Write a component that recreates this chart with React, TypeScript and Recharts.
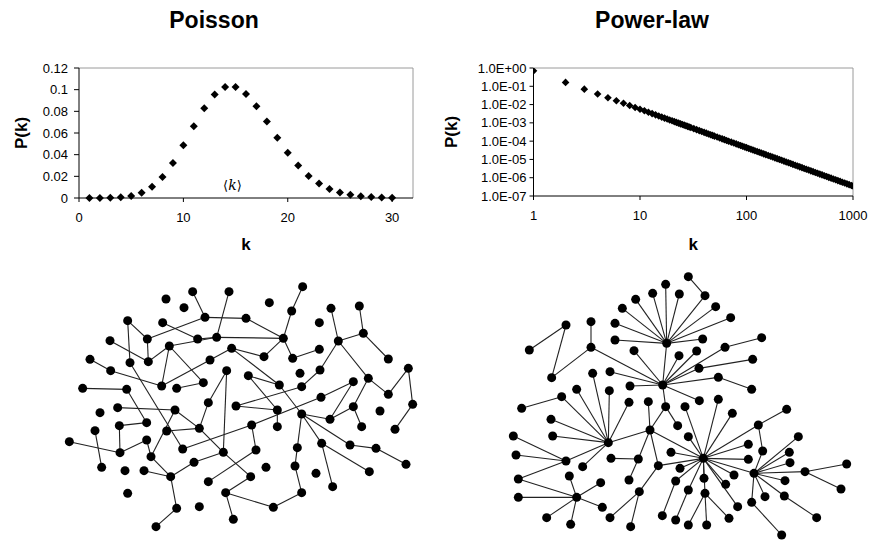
import React from 'react'
import {
  ScatterChart, Scatter, XAxis, YAxis, ReferenceLine, ReferenceDot, Label,
} from 'recharts'

const FONT = '"Liberation Sans", Arial, Helvetica, sans-serif'

// Poisson degree distribution
const POISSON_K = [
  1, 2, 3, 4, 5, 6, 7, 8, 9, 10, 11, 12, 13, 14, 15,
  16, 17, 18, 19, 20, 21, 22, 23, 24, 25, 26, 27, 28, 29, 30,
]
const POISSON_P = [
  0.0000, 0.0000, 0.0002, 0.0006, 0.0019, 0.0048, 0.0104, 0.0194, 0.0324, 0.0486,
  0.0663, 0.0829, 0.0956, 0.1024, 0.1024, 0.0960, 0.0847, 0.0706, 0.0557, 0.0418,
  0.0299, 0.0204, 0.0133, 0.0083, 0.0050, 0.0029, 0.0016, 0.0009, 0.0004, 0.0002,
]
const POISSON_XTICKS = [0, 10, 20, 30]
const POISSON_YTICKS = [0, 0.02, 0.04, 0.06, 0.08, 0.1, 0.12]

// power-law distribution (log-log), dense band of markers
const POWER_K = [
  1, 2, 3, 4, 5, 6, 7, 8, 9, 10, 11, 12, 13, 14, 15, 16, 17, 18, 19, 20,
  21, 22, 23, 24, 25, 26, 27, 28, 29, 30, 32, 34, 36, 38, 40, 42, 44, 46, 48, 50,
  53, 56, 59, 62, 65, 68, 72, 76, 80, 84, 88, 92, 96, 100, 105, 110, 115, 120,
  126, 132, 138, 145, 152, 160, 168, 176, 185, 194, 204, 214, 225, 236, 248, 260,
  273, 287, 301, 316, 332, 348, 365, 383, 402, 422, 443, 465, 488, 512, 538, 565,
  593, 623, 654, 687, 721, 757, 795, 835, 877, 920, 966, 1000,
]
const POWER_P = [
  0.70, 0.163, 0.0697, 0.0381, 0.0238, 0.01626, 0.01176, 0.00888, 0.00694, 0.00556,
  0.00455, 0.00379, 0.0032, 0.00274, 0.00237, 0.00207, 0.00182, 0.00162, 0.00144, 0.0013,
  0.001171, 0.00106, 0.000967, 0.000885, 0.000812, 0.000748, 0.000691, 0.00064, 0.000594, 0.000553,
  0.0004835, 0.0004255, 0.000377, 0.000337, 0.000303, 0.0002731, 0.0002476, 0.0002256, 0.0002063, 0.000189,
  0.0001675, 0.0001493, 0.0001338, 0.0001205, 0.000109, 0.0000993, 0.0000881, 0.0000786, 0.0000706,
  0.0000637, 0.0000578, 0.0000526, 0.0000481, 0.0000442, 0.0000399, 0.0000362, 0.0000329, 0.0000301,
  0.0000272, 0.0000247, 0.0000225, 0.0000202, 0.0000183, 0.0000165, 0.0000149, 0.0000135,
  0.0000121, 0.000011, 0.00000988, 0.00000894, 0.00000805, 0.00000728, 0.00000656, 0.00000594,
  0.00000536, 0.00000483, 0.00000437, 0.00000394, 0.00000356, 0.00000322, 0.00000291, 0.00000263,
  0.00000238, 0.00000215, 0.00000194, 0.00000175, 0.00000158, 0.00000143, 0.00000129, 0.00000116,
  0.00000105, 0.000000948, 0.000000856, 0.000000772, 0.000000697, 0.00000063, 0.000000568,
  0.000000512, 0.000000462, 0.000000418, 0.000000377, 0.000000351,
]
const POWER_XTICKS = [1, 10, 100, 1000]
const POWER_YTICKS = [1e-7, 1e-6, 1e-5, 1e-4, 1e-3, 1e-2, 1e-1, 1]

// random network: node positions (layout units) and links (1-based node numbers)
const RANDOM_NODES = [
  [788, 80], [458, 95], [567, 95], [378, 117], [432, 143], [688, 128], [873, 145], [958, 138],
  [755, 153], [495, 172], [618, 175], [263, 182], [368, 188], [838, 188], [970, 220], [322, 237],
  [473, 237], [530, 232], [730, 235], [895, 243], [210, 242], [388, 258], [575, 265], [838, 268],
  [150, 298], [270, 308], [325, 305], [510, 300], [672, 290], [758, 295], [1045, 297], [212, 332],
  [560, 332], [625, 347], [840, 330], [780, 340], [1105, 325], [985, 355], [128, 385], [260, 388],
  [365, 378], [410, 385], [490, 368], [718, 375], [785, 380], [940, 365], [1045, 403], [843, 412],
  [180, 458], [233, 443], [405, 450], [505, 428], [588, 438], [712, 450], [785, 462], [940, 440],
  [1020, 453], [1118, 433], [870, 478], [165, 512], [238, 497], [320, 488], [380, 513], [478, 505],
  [635, 495], [712, 500], [965, 500], [1065, 508], [88, 545], [240, 578], [320, 540], [428, 567],
  [550, 577], [648, 570], [772, 563], [845, 550], [930, 555], [1008, 565], [185, 622], [255, 632],
  [312, 632], [333, 590], [392, 650], [462, 607], [678, 622], [765, 618], [828, 640], [988, 635],
  [1098, 613], [505, 665], [632, 650], [878, 680], [263, 700], [557, 698], [785, 698], [410, 745],
  [478, 740], [700, 742], [580, 778], [348, 800],
]
const RANDOM_LINKS = [
  [1, 9], [9, 19], [2, 10], [3, 18], [10, 11], [11, 19], [10, 16], [13, 17], [12, 16], [12, 26],
  [17, 18], [18, 19], [22, 18], [19, 29], [19, 30], [7, 20], [8, 15], [15, 20], [15, 31], [20, 38],
  [20, 35], [24, 30], [38, 47], [47, 37], [37, 58], [58, 68], [21, 27], [27, 22], [22, 41], [22, 43],
  [23, 28], [23, 44], [23, 29], [28, 41], [25, 32], [32, 41], [16, 27], [39, 40], [40, 62], [26, 72],
  [42, 43], [52, 64], [33, 73], [33, 52], [34, 44], [34, 54], [35, 45], [45, 53], [46, 59], [44, 55],
  [50, 51], [51, 82], [51, 64], [61, 62], [61, 70], [69, 70], [70, 71], [60, 79], [63, 64], [65, 72],
  [65, 74], [65, 48], [48, 46], [55, 76], [55, 59], [75, 86], [55, 75], [76, 92], [77, 78], [78, 89],
  [76, 88], [73, 84], [84, 83], [82, 83], [81, 83], [83, 96], [96, 100], [73, 91], [90, 74], [91, 94],
  [94, 98], [98, 95], [95, 86], [94, 99], [64, 73], [71, 82], [54, 66], [59, 56], [56, 67], [38, 56],
  [55, 77], [53, 54],
]

// scale-free network
const SCALEFREE_NODES = [
  [560, 250], [557, 73], [518, 100], [598, 102], [467, 118], [427, 145], [675, 107], [625, 50],
  [707, 140], [752, 173], [405, 190], [405, 240], [668, 237], [548, 375], [333, 262], [333, 185],
  [215, 353], [258, 195], [148, 270], [462, 272], [597, 287], [650, 273], [657, 325], [818, 298],
  [735, 262], [845, 233], [715, 352], [815, 388], [390, 335], [450, 378], [658, 422], [557, 440],
  [593, 497], [338, 340], [388, 392], [505, 425], [385, 548], [245, 410], [125, 445], [290, 388],
  [447, 427], [213, 478], [218, 528], [258, 603], [308, 620], [100, 528], [108, 585], [115, 657],
  [290, 712], [115, 712], [268, 648], [362, 668], [367, 742], [200, 773], [272, 793], [510, 510],
  [393, 595], [475, 597], [447, 660], [535, 617], [478, 695], [390, 773], [452, 800], [670, 595],
  [615, 440], [715, 418], [757, 460], [625, 530], [573, 577], [600, 625], [587, 663], [625, 690],
  [672, 655], [675, 700], [737, 673], [762, 645], [773, 740], [805, 553], [805, 598], [835, 495],
  [920, 448], [848, 573], [822, 640], [928, 577], [930, 608], [915, 662], [913, 708], [855, 710],
  [815, 727], [955, 530], [975, 635], [1100, 612], [1083, 687], [1010, 773], [905, 825], [680, 795],
  [625, 795], [747, 775], [547, 767], [587, 780],
]
const SCALEFREE_LINKS = [
  [1, 2], [1, 3], [1, 4], [1, 5], [1, 6], [1, 7], [1, 9], [1, 10], [1, 11], [1, 12], [1, 13], [1, 14],
  [8, 7], [14, 15], [14, 20], [14, 21], [14, 22], [14, 23], [14, 25], [14, 27], [14, 29], [14, 30],
  [14, 31], [14, 32], [23, 24], [25, 26], [27, 28], [15, 16], [15, 17], [17, 18], [18, 19], [32, 56],
  [32, 33], [37, 38], [37, 40], [37, 34], [37, 35], [37, 41], [37, 42], [37, 43], [37, 44], [37, 45],
  [37, 56], [38, 39], [44, 46], [44, 47], [44, 48], [49, 48], [49, 50], [49, 51], [49, 52], [49, 53],
  [49, 54], [49, 55], [56, 36], [56, 64], [56, 58], [56, 60], [57, 58], [58, 59], [60, 61], [61, 62],
  [61, 63], [64, 65], [64, 66], [64, 67], [64, 68], [64, 69], [64, 70], [64, 71], [64, 72], [64, 73],
  [64, 74], [64, 75], [64, 76], [64, 77], [64, 78], [64, 79], [64, 80], [64, 83], [64, 60], [80, 81],
  [80, 82], [74, 96], [74, 97], [74, 98], [71, 99], [72, 100], [83, 82], [83, 84], [83, 85], [83, 86],
  [83, 87], [83, 88], [83, 89], [83, 90], [83, 91], [91, 92], [91, 93], [87, 94], [89, 95],
]

const diamond = (r: number) => (props: any) => {
  const { cx, cy } = props
  if (cx == null || cy == null) return null
  return (
    <polygon
      points={`${cx},${cy - r} ${cx + r},${cy} ${cx},${cy + r} ${cx - r},${cy}`}
      fill="#000"
    />
  )
}

const nodeDot = (props: any) => {
  const { cx, cy } = props
  if (cx == null || cy == null) return null
  return <circle cx={cx} cy={cy} r={4.5} fill="#000" />
}

const sciLabel = (v: number) => {
  const e = Math.round(Math.log10(v))
  return `1.0E${e < 0 ? '-' : '+'}${String(Math.abs(e)).padStart(2, '0')}`
}

// ⟨k⟩ marker: sans brackets, serif italic k
const meanLabel = (props: any) => {
  const vb = props.viewBox || {}
  const x = (vb.x ?? 0) + (vb.width ?? 0) / 2
  const y = (vb.y ?? 0) + (vb.height ?? 0) / 2
  return (
    <text x={x} y={y} dy={5} textAnchor="middle" fill="#000" fontSize={14}>
      <tspan fontFamily='"DejaVu Sans", sans-serif' fontSize={13}>⟨</tspan>
      <tspan fontFamily='"DejaVu Serif", serif' fontStyle="italic">k</tspan>
      <tspan fontFamily='"DejaVu Sans", sans-serif' fontSize={13}>⟩</tspan>
    </text>
  )
}

const poissonData = POISSON_K.map((k, i) => ({ k, p: POISSON_P[i] }))
const powerData = POWER_K.map((k, i) => ({ k, p: POWER_P[i] }))

const tickStyle = { fill: '#000', fontSize: 13, fontFamily: FONT }
const axisTitle = { fill: '#000', fontSize: 17, fontWeight: 'bold' as const, fontFamily: FONT }

function Network({ nodes, links, width, height, domainX }: {
  nodes: number[][]; links: number[][]; width: number; height: number; domainX: number
}) {
  const pts = nodes.map(([x, y]) => ({ x, y }))
  return (
    <ScatterChart width={width} height={height} margin={{ top: 0, right: 0, bottom: 0, left: 0 }}>
      <XAxis type="number" dataKey="x" domain={[0, domainX]} hide />
      <YAxis type="number" dataKey="y" domain={[0, 840]} reversed hide />
      {links.map(([a, b], i) => (
        <ReferenceLine
          key={i}
          segment={[pts[a - 1], pts[b - 1]]}
          stroke="#222"
          strokeWidth={1.1}
        />
      ))}
      <Scatter data={pts} shape={nodeDot} isAnimationActive={false} />
    </ScatterChart>
  )
}

function Title({ text, cx }: { text: string; cx: number }) {
  return (
    <div
      style={{
        position: 'absolute', left: cx - 150, top: 8.8, width: 300, textAlign: 'center',
        fontSize: 23, lineHeight: '23px', fontWeight: 'bold', fontFamily: FONT, color: '#000',
      }}
    >
      {text}
    </div>
  )
}

export default function App() {
  return (
    <div style={{ position: 'relative', width: 869, height: 542, background: '#fff' }}>
      <style>{'html,body{margin:0;padding:0;overflow:hidden}.recharts-surface{overflow:visible}'}</style>
      <Title text="Poisson" cx={214} />
      <Title text="Power-law" cx={652} />

      <div style={{ position: 'absolute', left: 0, top: 0 }}>
        <ScatterChart width={430} height={260} margin={{ top: 68, right: 17, bottom: 10, left: 0 }}>
          <XAxis
            type="number" dataKey="k" domain={[0, 32]} ticks={POISSON_XTICKS} interval={0}
            tickSize={4} tickMargin={11} height={52}
            axisLine={{ stroke: '#000' }} tickLine={{ stroke: '#000' }} tick={tickStyle}
          >
            <Label value="k" position="insideBottom" offset={0} style={axisTitle} />
          </XAxis>
          <YAxis
            type="number" dataKey="p" domain={[0, 0.12]} ticks={POISSON_YTICKS} interval={0}
            tickFormatter={(v: number) => String(v)} width={79}
            tickSize={5} tickMargin={6}
            axisLine={{ stroke: '#000' }} tickLine={{ stroke: '#000' }} tick={tickStyle}
          >
            <Label value="P(k)" angle={-90} position="insideLeft" offset={21} style={{ ...axisTitle, textAnchor: 'middle' }} />
          </YAxis>
          <ReferenceLine y={0.12} stroke="#9a9a9a" />
          <ReferenceLine x={32} stroke="#9a9a9a" />
          <Scatter data={poissonData} shape={diamond(4)} isAnimationActive={false} />
          <ReferenceDot x={14.7} y={0.012} r={1} fill="none" stroke="none">
            <Label content={meanLabel} />
          </ReferenceDot>
        </ScatterChart>
      </div>

      <div style={{ position: 'absolute', left: 430, top: 0, width: 439 }}>
        <ScatterChart width={439} height={260} margin={{ top: 68, right: 16, bottom: 10, left: 0 }}>
          <XAxis
            type="number" dataKey="k" scale="log" domain={[1, 1000]} ticks={POWER_XTICKS} interval={0}
            allowDataOverflow tickSize={4} tickMargin={11} height={54}
            axisLine={{ stroke: '#000' }} tickLine={{ stroke: '#000' }} tick={tickStyle}
          >
            <Label value="k" position="insideBottom" offset={0} style={axisTitle} />
          </XAxis>
          <YAxis
            type="number" dataKey="p" scale="log" domain={[1e-7, 1]} ticks={POWER_YTICKS} interval={0}
            allowDataOverflow tickFormatter={sciLabel} width={103.5}
            tickSize={4} tickMargin={3}
            axisLine={{ stroke: '#000' }} tickLine={{ stroke: '#000' }} tick={tickStyle}
          >
            <Label value="P(k)" angle={-90} position="insideLeft" offset={21} style={{ ...axisTitle, textAnchor: 'middle' }} />
          </YAxis>
          <ReferenceLine y={1} stroke="#9a9a9a" />
          <ReferenceLine x={1000} stroke="#9a9a9a" />
          <Scatter data={powerData} shape={diamond(3.8)} isAnimationActive={false} />
        </ScatterChart>
      </div>

      <div style={{ position: 'absolute', left: 40, top: 260 }}>
        <Network nodes={RANDOM_NODES} links={RANDOM_LINKS} width={400} height={280} domainX={1200} />
      </div>
      <div style={{ position: 'absolute', left: 480, top: 260 }}>
        <Network nodes={SCALEFREE_NODES} links={SCALEFREE_LINKS} width={389} height={280} domainX={1167} />
      </div>
    </div>
  )
}
